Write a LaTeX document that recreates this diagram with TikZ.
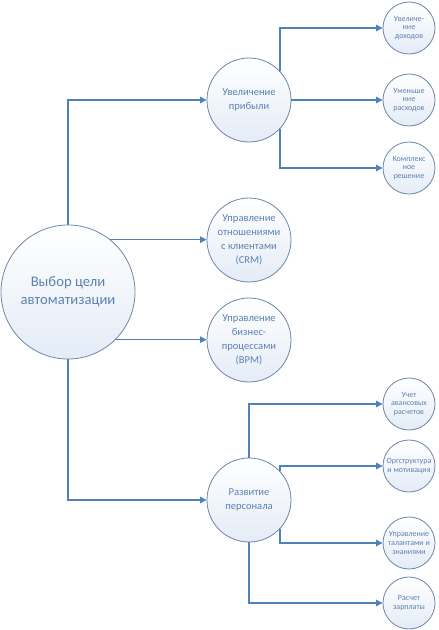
\documentclass[tikz,border=0pt]{standalone}
\usepackage{fontspec}
\setmainfont{Carlito}
\usetikzlibrary{arrows.meta}
\definecolor{linkblue}{RGB}{79,129,189}
\definecolor{rimgray}{RGB}{112,136,168}
\definecolor{inkblue}{RGB}{92,130,178}
\definecolor{bubbleblue}{RGB}{228,236,246}
\begin{document}
\begin{tikzpicture}[x=0.03cm,y=-0.03cm,
        bubble/.style={circle,draw=rimgray,line width=0.7pt,inner sep=0pt,
            top color=white,bottom color=bubbleblue},
        goalbubble/.style={bubble,minimum size=4.02cm,
            label={[text=inkblue,font=\fontsize{12.5}{15.5}\selectfont,align=center]center:{#1}}},
        subbubble/.style={bubble,minimum size=2.52cm,
            label={[text=inkblue,font=\fontsize{9}{12}\selectfont,align=center]center:{#1}}},
        leafbubble/.style={bubble,minimum size=1.56cm,
            label={[text=inkblue,font=\fontsize{6.8}{7.6}\selectfont,align=center]center:{#1}}},
        link/.style={draw=linkblue,line width=1pt,-{Triangle[length=5.5pt,width=5.5pt]}}]
            \useasboundingbox (0,0) rectangle (439,630);

            \path (68,292) node (goal) [goalbubble={Выбор цели\\автоматизации}] {};
            \path (249,100) node (profit) [subbubble={Увеличение\\прибыли}] {};
            \path (249,240) node (crm) [subbubble={Управление\\отношениями\\с клиентами\\(CRM)}] {};
            \path (249,340) node (bpm) [subbubble={Управление\\бизнес-\\процессами\\(BPM)}] {};
            \path (249,500) node (staff) [subbubble={Развитие\\персонала}] {};

            \foreach \id/\ypos/\txt in {income/28/{Увеличе-\\ние\\доходов},
                    saving/100/{Уменьше\\ние\\расходов},
                    complex/168/{Комплекс\\ное\\решение},
                    advance/404/{Учет\\авансовых\\расчетов},
                    orgchart/466/{Оргструктура\\и мотивация},
                    talent/543/{Управление\\талантами и\\знаниями},
                    payroll/603/{Расчет\\зарплаты}}
                \path (409,\ypos) node (\id) [leafbubble=\txt] {};

            \draw [link] (goal.north) |- (profit);
            \draw [link] (goal.51) -- (goal.51 -| crm.west);
            \draw [link] (goal.-45.8) -- (goal.-45.8 -| bpm.west);
            \draw [link] (goal.south) |- (staff);

            \draw [link] (profit.43) |- (income);
            \draw [link] (profit.east) -- (saving);
            \draw [link] (profit.-43) |- (complex);

            \draw [link] (staff.north) |- (advance);
            \draw [link] (staff.43) |- (orgchart);
            \draw [link] (staff.-43) |- (talent);
            \draw [link] (staff.south) |- (payroll);
        \end{tikzpicture}
\end{document}
